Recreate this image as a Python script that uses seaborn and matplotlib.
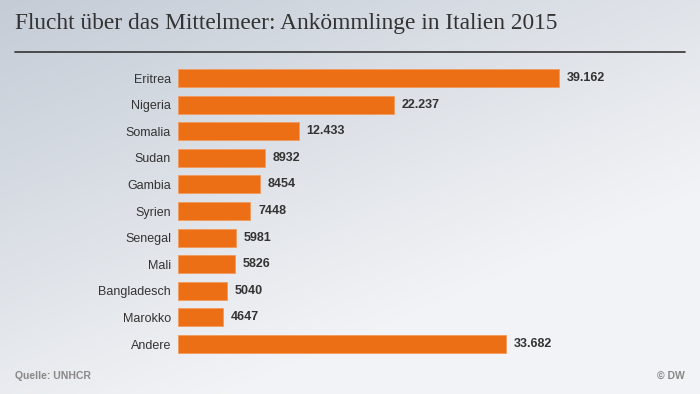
import numpy as np
import pandas as pd
import matplotlib
matplotlib.use('Agg')
import matplotlib.pyplot as plt
import seaborn as sns

# Daten (UNHCR, Ankömmlinge in Italien 2015)
laender = ['Eritrea', 'Nigeria', 'Somalia', 'Sudan', 'Gambia', 'Syrien',
           'Senegal', 'Mali', 'Bangladesch', 'Marokko', 'Andere']
ankoemmlinge = [39162, 22237, 12433, 8932, 8454, 7448, 5981, 5826, 5040, 4647, 33682]
beschriftung = ['39.162', '22.237', '12.433', '8932', '8454', '7448',
                '5981', '5826', '5040', '4647', '33.682']

df = pd.DataFrame({'Land': laender, 'Anzahl': ankoemmlinge})

sns.set_style('white')
plt.rcParams['font.family'] = ['Liberation Sans', 'DejaVu Sans']

fig = plt.figure(figsize=(7, 3.94), dpi=100)

# Hintergrund mit Verlauf
bg = fig.add_axes([0, 0, 1, 1], zorder=-10)
yy, xx = np.mgrid[0:1:200j, 0:1:350j]
t = np.clip(0.6 * xx + 0.8 * yy, 0, 1)
c0 = np.array([0.77, 0.80, 0.84])
c1 = np.array([0.95, 0.955, 0.965])
img = c0[None, None, :] * (1 - t[..., None]) + c1[None, None, :] * t[..., None]
bg.imshow(img, aspect='auto', extent=[0, 1, 0, 1], origin='upper')
bg.axis('off')

ax = fig.add_axes([0.2543, 0.0931, 0.667, 0.7426])
ax.patch.set_alpha(0)
sns.barplot(data=df, y='Land', x='Anzahl', color='#ec6e15', saturation=1,
            width=0.68, edgecolor='#f29a5c', linewidth=0.6, ax=ax)
ax.set_xlim(0, 48000)
ax.set_ylim(len(laender) - 0.5, -0.5)

for i, (v, s) in enumerate(zip(ankoemmlinge, beschriftung)):
    ax.text(v + 800, i, s, va='center', ha='left', fontsize=9,
            fontweight='bold', color='#333333')

ax.set_xlabel('')
ax.set_ylabel('')
ax.set_xticks([])
ax.tick_params(axis='y', length=0, pad=5, labelsize=9, labelcolor='#333333')
sns.despine(ax=ax, left=True, bottom=True)

fig.text(15 / 700, 1 - 23 / 394, 'Flucht über das Mittelmeer: Ankömmlinge in Italien 2015',
         family=['Liberation Serif', 'DejaVu Serif'], fontsize=16.8, color='#333333',
         va='center', ha='left')
fig.add_artist(plt.Line2D([15 / 700, 685 / 700], [1 - 52 / 394, 1 - 52 / 394],
                          color='#333333', lw=1.2))
fig.text(15 / 700, 1 - 376 / 394, 'Quelle: UNHCR', fontsize=7.5, fontweight='bold',
         color='#888888', va='center', ha='left')
fig.text(685 / 700, 1 - 376 / 394, '© DW', fontsize=7.5, fontweight='bold',
         color='#888888', va='center', ha='right')

fig.savefig('out.png', dpi=100)
